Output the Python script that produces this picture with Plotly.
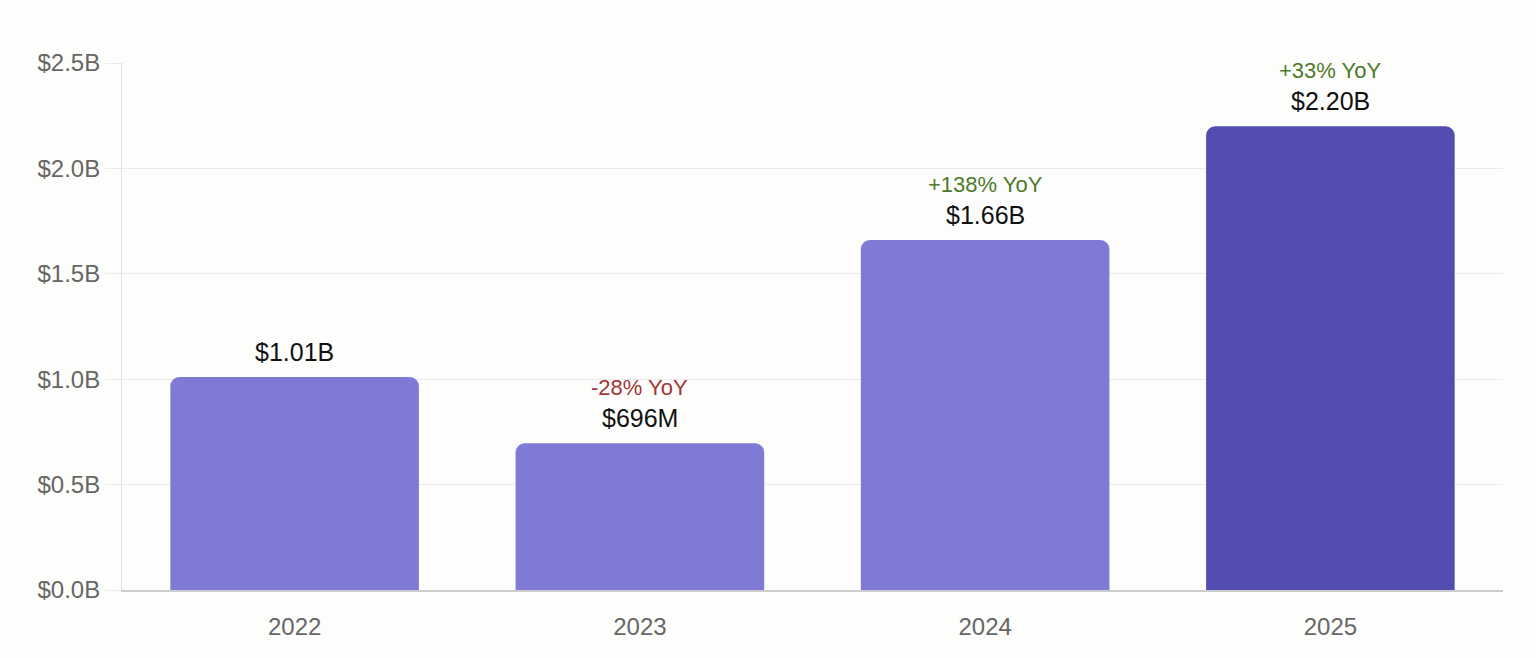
import plotly.graph_objects as go

years = ["2022", "2023", "2024", "2025"]
revenue_b = [1.01, 0.696, 1.66, 2.20]
value_labels = ["$1.01B", "$696M", "$1.66B", "$2.20B"]
yoy_labels = ["", "-28% YoY", "+138% YoY", "+33% YoY"]
bar_colors = ["#7f7ad6", "#7f7ad6", "#7f7ad6", "#544db1"]

FONT = "Liberation Sans, Arial, Helvetica, sans-serif"
BG = "#fdfdfc"

fig = go.Figure()

fig.add_trace(
    go.Bar(
        x=years,
        y=revenue_b,
        marker=dict(color=bar_colors, cornerradius=9, line=dict(width=0)),
        hoverinfo="skip",
    )
)

# value labels and YoY change above each bar (x = category index)
for i, (val, lbl, yoy) in enumerate(zip(revenue_b, value_labels, yoy_labels)):
    fig.add_annotation(
        x=i, y=val, text=lbl, showarrow=False, yanchor="bottom", yshift=9,
        font=dict(family=FONT, size=25, color="#111111"),
    )
    if yoy:
        color = "#a33636" if yoy.startswith("-") else "#4d7a2a"
        fig.add_annotation(
            x=i, y=val, text=yoy, showarrow=False, yanchor="bottom", yshift=41,
            font=dict(family=FONT, size=22, color=color),
        )

fig.update_layout(
    width=1536,
    height=658,
    paper_bgcolor=BG,
    plot_bgcolor=BG,
    margin=dict(l=122, r=33, t=63, b=68),
    showlegend=False,
    bargap=0.28,
    font=dict(family=FONT, size=24, color="#666666"),
    xaxis=dict(
        type="category",
        categoryorder="array",
        categoryarray=years,
        range=[-0.5, len(years) - 0.5],
        showgrid=False,
        showline=True,
        linecolor="#cccccc",
        linewidth=1.5,
        ticks="",
        ticklabelstandoff=14,
        tickfont=dict(size=24, color="#666666"),
        fixedrange=True,
    ),
    yaxis=dict(
        range=[0, 2.5],
        tickvals=[0, 0.5, 1.0, 1.5, 2.0, 2.5],
        ticktext=["$0.0B", "$0.5B", "$1.0B", "$1.5B", "$2.0B", "$2.5B"],
        showgrid=True,
        gridcolor="#ebebeb",
        gridwidth=1,
        showline=True,
        linecolor="#e0e0e0",
        zeroline=False,
        ticks="outside",
        ticklen=16,
        tickcolor="#ebebeb",
        tickfont=dict(size=24, color="#666666"),
        fixedrange=True,
    ),
)

fig.write_html(
    "out.html",
    config={"displayModeBar": False},
    post_script="document.body.style.margin='0';document.body.style.background='%s';" % BG,
)
